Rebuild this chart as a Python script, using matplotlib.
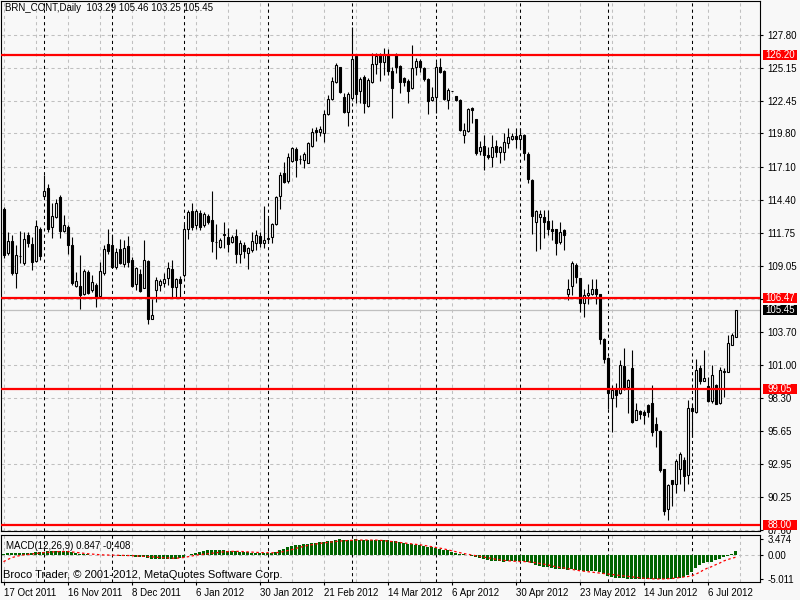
import matplotlib
matplotlib.use("Agg")
import matplotlib.pyplot as plt
import matplotlib.transforms as mtransforms
from matplotlib.patches import Rectangle
import numpy as np

plt.rcParams['font.family'] = ['Liberation Sans', 'DejaVu Sans']
plt.rcParams['font.size'] = 7
plt.rcParams['axes.linewidth'] = 0.8

# daily bars, oldest first
opens = [
    113.68, 110.11, 111.05, 108.43, 109.84, 109.24, 111.54, 110.81, 109.46, 112.03,
    114.71, 115.34, 112.22, 112.98, 114.66, 111.89, 112.22, 110.73, 107.42, 107.40,
    106.80, 108.51, 107.07, 107.48, 106.58, 108.43, 110.86, 110.73, 108.97, 110.38,
    109.16, 110.65, 109.56, 107.61, 108.37, 107.21, 109.46, 104.77, 107.07, 107.53,
    107.67, 108.10, 108.83, 107.34, 107.97, 108.29, 112.00, 113.49, 112.36, 113.36,
    112.36, 113.09, 112.76, 111.00, 110.59, 111.55, 111.35, 111.00, 111.46, 109.97,
    110.78, 110.13, 110.32, 110.87, 111.46, 110.87, 111.25, 111.41, 112.44, 114.74,
    116.56, 115.93, 117.59, 118.54, 117.70, 117.64, 117.42, 118.80, 120.08, 119.95,
    119.81, 121.38, 122.60, 123.95, 125.17, 122.79, 121.57, 122.65, 126.12, 123.27,
    124.41, 122.03, 124.01, 125.42, 126.17, 125.63, 126.23, 124.90, 126.17, 125.28,
    124.28, 124.06, 123.46, 125.17, 125.69, 125.09, 124.20, 122.52, 122.79, 125.23,
    124.87, 122.52, 123.25, 122.84, 122.52, 119.67, 120.02, 121.84, 120.97, 118.40,
    118.78, 118.04, 117.91, 118.78, 118.32, 118.32, 118.99, 119.35, 119.59, 119.32,
    119.67, 118.12, 116.01, 112.62, 113.03, 113.03, 112.68, 112.08, 112.03, 110.99,
    111.94, 106.80, 107.39, 109.15, 108.02, 106.04, 106.66, 106.80, 107.20, 106.74,
    103.14, 101.59, 98.34, 99.07, 98.72, 100.89, 99.21, 100.78, 96.55, 97.23,
    97.18, 97.72, 97.94, 96.17, 95.60, 92.52, 89.32, 91.62, 91.30, 92.57,
    93.25, 92.03, 97.53, 97.18, 100.75, 99.70, 99.26, 98.07, 99.34, 97.91,
    100.43, 100.43, 102.65, 103.29]
highs = [
    113.85, 111.81, 111.54, 110.73, 111.87, 111.81, 111.81, 111.41, 112.76, 112.22,
    116.42, 115.69, 114.12, 114.44, 114.79, 113.17, 112.36, 111.41, 108.56, 109.92,
    108.83, 108.70, 108.29, 107.67, 109.37, 110.73, 112.00, 111.54, 110.46, 111.19,
    111.14, 111.46, 109.78, 108.97, 108.83, 111.14, 109.51, 106.39, 108.15, 107.94,
    108.43, 109.37, 109.51, 108.02, 108.21, 112.41, 113.58, 114.12, 113.63, 113.58,
    113.44, 113.22, 115.12, 112.41, 111.27, 112.63, 112.09, 111.54, 112.00, 111.14,
    111.00, 110.59, 111.81, 111.95, 111.81, 113.90, 112.90, 112.55, 114.71, 116.69,
    117.51, 118.20, 118.72, 118.72, 118.05, 118.32, 119.13, 120.21, 120.30, 120.40,
    121.70, 122.92, 124.41, 125.55, 125.23, 123.11, 123.19, 128.48, 126.17, 124.41,
    124.55, 124.28, 126.31, 126.36, 126.31, 126.72, 126.64, 125.23, 126.31, 125.36,
    124.41, 124.20, 126.99, 125.90, 125.82, 125.23, 124.33, 123.60, 125.63, 125.90,
    124.95, 123.46, 123.27, 122.84, 122.60, 120.62, 121.84, 121.92, 120.97, 119.21,
    119.67, 118.72, 119.67, 119.26, 118.80, 119.81, 120.21, 119.86, 120.21, 120.21,
    119.72, 118.31, 116.14, 113.57, 113.62, 113.57, 113.57, 112.76, 112.08, 112.62,
    112.03, 107.94, 109.43, 109.29, 108.10, 107.20, 107.61, 107.94, 107.94, 106.80,
    103.22, 101.65, 99.34, 99.53, 101.38, 102.41, 99.89, 102.19, 97.91, 97.31,
    97.37, 97.85, 99.34, 96.77, 95.69, 92.57, 91.35, 91.68, 93.38, 93.92,
    93.52, 98.18, 97.80, 101.51, 100.97, 102.24, 100.02, 100.97, 99.48, 100.83,
    100.78, 103.41, 103.60, 105.46]
lows = [
    109.65, 109.92, 108.29, 107.21, 109.24, 109.10, 110.59, 108.70, 109.37, 109.51,
    114.60, 111.81, 111.27, 112.90, 111.27, 111.81, 110.05, 107.48, 107.34, 105.58,
    106.66, 106.80, 106.94, 105.72, 106.53, 108.29, 110.05, 108.91, 108.83, 109.18,
    108.97, 108.97, 107.34, 107.07, 106.94, 107.21, 104.31, 104.69, 106.12, 107.02,
    107.34, 107.48, 106.53, 106.53, 106.53, 108.15, 111.19, 111.95, 112.00, 111.95,
    112.22, 112.44, 110.19, 109.62, 110.46, 110.46, 110.19, 110.87, 109.29, 109.29,
    109.65, 108.83, 110.19, 110.32, 110.59, 110.46, 110.87, 110.87, 112.36, 113.63,
    115.74, 115.74, 117.51, 116.29, 117.32, 116.96, 117.37, 118.72, 119.20, 119.60,
    119.13, 121.30, 122.52, 123.87, 123.06, 121.43, 120.40, 122.52, 122.24, 122.24,
    121.49, 121.92, 123.87, 124.63, 124.09, 124.55, 124.55, 121.08, 124.74, 123.11,
    123.65, 122.24, 123.38, 124.55, 124.82, 124.06, 121.35, 122.43, 121.49, 124.68,
    122.52, 121.76, 123.23, 122.46, 120.00, 119.05, 119.94, 120.67, 118.04, 118.04,
    116.82, 117.69, 117.10, 117.91, 117.37, 117.64, 118.59, 119.26, 118.59, 118.59,
    117.64, 115.79, 111.67, 110.26, 110.45, 111.27, 111.54, 111.13, 109.91, 110.86,
    110.37, 106.31, 106.72, 107.66, 105.31, 104.90, 105.98, 106.66, 105.98, 102.73,
    101.16, 97.45, 95.55, 97.58, 98.66, 98.99, 97.10, 96.28, 96.50, 96.63,
    96.23, 96.77, 95.20, 94.33, 92.30, 88.78, 88.42, 89.51, 90.59, 91.35,
    90.75, 91.35, 95.14, 97.10, 99.48, 99.70, 97.99, 97.91, 97.80, 97.85,
    98.40, 100.43, 102.60, 103.25]
closes = [
    109.92, 111.05, 108.43, 109.92, 109.86, 111.22, 110.92, 109.37, 112.27, 109.86,
    115.12, 112.00, 113.09, 114.12, 111.89, 112.36, 110.78, 107.67, 107.80, 106.66,
    108.62, 106.85, 107.72, 106.53, 108.62, 110.38, 110.27, 108.97, 110.16, 109.29,
    110.46, 109.37, 107.40, 108.89, 106.99, 109.51, 104.77, 105.04, 107.88, 107.83,
    107.97, 108.91, 107.34, 107.97, 107.69, 112.00, 113.39, 112.17, 113.49, 112.22,
    113.22, 112.57, 111.08, 110.97, 111.14, 111.60, 110.81, 111.35, 110.00, 110.87,
    110.27, 110.46, 111.06, 111.54, 110.92, 111.14, 111.30, 112.44, 114.61, 116.42,
    115.88, 117.91, 118.59, 117.64, 117.72, 118.10, 118.99, 119.94, 119.89, 120.13,
    121.35, 122.57, 124.09, 125.36, 123.19, 121.57, 123.00, 125.82, 123.00, 124.20,
    122.24, 124.14, 125.42, 126.09, 125.63, 126.23, 124.90, 123.46, 125.23, 124.01,
    124.01, 123.27, 125.09, 125.69, 125.17, 124.20, 122.46, 122.73, 125.23, 124.82,
    122.60, 123.33, 123.25, 122.52, 120.08, 120.08, 121.76, 121.70, 118.23, 118.67,
    118.04, 117.91, 118.72, 118.32, 118.67, 119.07, 119.48, 119.62, 119.35, 119.67,
    118.18, 116.14, 113.08, 113.49, 113.25, 112.62, 112.08, 111.89, 110.94, 111.81,
    111.59, 107.20, 109.24, 108.15, 106.04, 106.72, 106.85, 107.20, 106.74, 103.14,
    101.51, 98.72, 98.99, 98.59, 100.97, 99.07, 99.75, 96.36, 97.37, 96.99,
    96.91, 97.18, 95.55, 95.69, 92.43, 89.13, 91.27, 91.30, 93.17, 93.73,
    91.95, 97.53, 97.26, 100.56, 99.70, 99.97, 98.07, 100.21, 97.85, 100.62,
    100.48, 102.81, 103.46, 105.45]

# MACD(12,26,9) main (histogram) and signal
macd = [
    0.40, 0.42, 0.45, 0.48, 0.50, 0.52, 0.55, 0.58, 0.62, 0.66,
    0.75, 0.85, 0.90, 0.95, 1.00, 1.00, 0.95, 0.80, 0.60, 0.40,
    0.30, 0.20, 0.10, 0.05, 0.00, 0.00, 0.05, 0.05, 0.00, -0.05,
    -0.05, -0.10, -0.20, -0.25, -0.35, -0.40, -0.60, -0.75, -0.80, -0.80,
    -0.80, -0.75, -0.75, -0.70, -0.65, -0.30, 0.10, 0.40, 0.60, 0.75,
    0.90, 1.05, 1.10, 1.10, 1.10, 1.05, 1.00, 0.95, 0.90, 0.80,
    0.75, 0.65, 0.60, 0.60, 0.55, 0.55, 0.50, 0.55, 0.75, 1.10,
    1.40, 1.70, 1.95, 2.15, 2.30, 2.40, 2.50, 2.60, 2.70, 2.75,
    2.85, 3.00, 3.15, 3.30, 3.474, 3.35, 3.30, 3.35, 3.40, 3.35,
    3.25, 3.20, 3.25, 3.30, 3.30, 3.30, 3.20, 3.05, 2.95, 2.80,
    2.60, 2.50, 2.40, 2.30, 2.20, 2.00, 1.85, 1.70, 1.55, 1.40,
    1.20, 1.05, 0.80, 0.55, 0.35, 0.20, 0.05, -0.15, -0.40, -0.65,
    -0.85, -1.00, -1.10, -1.20, -1.25, -1.30, -1.25, -1.20, -1.20, -1.20,
    -1.25, -1.40, -1.70, -2.00, -2.20, -2.40, -2.55, -2.65, -2.80, -2.85,
    -2.90, -3.00, -2.95, -3.00, -3.10, -3.25, -3.30, -3.35, -3.40, -3.60,
    -3.90, -4.30, -4.55, -4.75, -4.85, -4.90, -5.00, -5.00, -5.011, -5.00,
    -5.00, -4.95, -5.00, -5.00, -5.00, -5.00, -5.00, -4.95, -4.90, -4.80,
    -4.60, -4.20, -3.50, -2.60, -2.00, -1.70, -1.50, -1.30, -1.00, -0.80,
    -0.40, -0.10, 0.30, 0.847]
signal = [
    -1.33, -0.90, -0.50, -0.25, -0.05, 0.10, 0.20, 0.30, 0.40, 0.50,
    0.58, 0.65, 0.72, 0.78, 0.80, 0.82, 0.80, 0.75, 0.65, 0.55,
    0.45, 0.35, 0.28, 0.20, 0.15, 0.10, 0.08, 0.05, 0.05, 0.03,
    0.00, 0.00, -0.05, -0.10, -0.15, -0.20, -0.25, -0.30, -0.38, -0.45,
    -0.50, -0.55, -0.58, -0.60, -0.55, -0.45, -0.30, -0.15, 0.05, 0.15,
    0.25, 0.35, 0.45, 0.55, 0.65, 0.75, 0.80, 0.85, 0.85, 0.85,
    0.80, 0.75, 0.70, 0.65, 0.60, 0.58, 0.55, 0.55, 0.58, 0.65,
    0.80, 1.00, 1.20, 1.45, 1.70, 1.90, 2.10, 2.25, 2.40, 2.55,
    2.65, 2.75, 2.85, 2.95, 3.05, 3.10, 3.15, 3.20, 3.25, 3.25,
    3.25, 3.25, 3.25, 3.25, 3.20, 3.15, 3.05, 2.95, 2.85, 2.75,
    2.65, 2.55, 2.45, 2.35, 2.25, 2.15, 2.00, 1.85, 1.70, 1.55,
    1.40, 1.20, 1.00, 0.80, 0.60, 0.40, 0.25, 0.10, -0.05, -0.20,
    -0.35, -0.50, -0.65, -0.80, -0.95, -1.05, -1.15, -1.20, -1.25, -1.30,
    -1.30, -1.35, -1.45, -1.55, -1.70, -1.85, -2.00, -2.20, -2.40, -2.55,
    -2.65, -2.80, -2.95, -3.10, -3.25, -3.35, -3.45, -3.55, -3.65, -3.75,
    -3.85, -3.95, -4.05, -4.15, -4.25, -4.35, -4.45, -4.55, -4.65, -4.75,
    -4.85, -4.90, -4.95, -5.00, -5.00, -5.00, -4.95, -4.90, -4.85, -4.70,
    -4.60, -4.50, -4.37, -4.00, -3.60, -3.10, -2.70, -2.40, -2.00, -1.65,
    -1.20, -0.90, -0.62, -0.408]

date_ticks = [0, 16, 32, 48, 64, 80, 96, 112, 128, 144, 160, 176]
date_labels = ['17 Oct 2011', '16 Nov 2011', '8 Dec 2011', '6 Jan 2012',
               '30 Jan 2012', '21 Feb 2012', '14 Mar 2012', '6 Apr 2012',
               '30 Apr 2012', '23 May 2012', '14 Jun 2012', '6 Jul 2012']
month_starts = [10, 27, 45, 66, 87, 108, 129, 151, 172]
price_ticks = [127.80, 125.15, 122.45, 119.80, 117.10, 114.40, 111.75, 109.05,
               106.35, 103.70, 101.00, 98.30, 95.65, 92.95, 90.25, 87.60]
levels = [126.20, 106.47, 99.05, 88.00]
bid = 105.45
macd_ticks = [3.474, 0.0, -5.011]
title = 'BRN_CONT,Daily  103.29 105.46 103.25 105.45'
macd_title = 'MACD(12,26,9) 0.847 -0.408'
footer = 'Broco Trader, \u00a9 2001-2012, MetaQuotes Software Corp.'

BG = '#f8f8f8'
GRID = '#c0c0c0'
W, H = 800, 600


def px_box(left, top, right, bottom):
    return [left / W, 1 - bottom / H, (right - left) / W, (bottom - top) / H]


fig = plt.figure(figsize=(8, 6), dpi=100, facecolor=BG)
ax = fig.add_axes(px_box(1, 1, 760, 531), facecolor=BG)
ax2 = fig.add_axes(px_box(1, 535, 760, 582), facecolor=BG)

x = np.arange(len(closes))
o, h, l, c = map(np.array, (opens, highs, lows, closes))
up = c >= o

for a in (ax, ax2):
    a.set_xlim(-0.625, 189.125)
    for i in range(0, 190, 8):
        a.axvline(i, color=GRID, lw=0.75, ls=(0, (3, 3)), zorder=0.5)
    for m in month_starts:
        a.axvline(m, color='black', lw=0.75, ls=(0, (3, 3)), zorder=1)
    for s in a.spines.values():
        s.set_color('black')

# price panel
ax.set_ylim(87.51, 130.56)
for p in price_ticks:
    ax.axhline(p, color=GRID, lw=0.75, ls=(0, (3, 3)), zorder=0.5)
ax.axhline(bid, color=GRID, lw=0.9, zorder=1)

ax.vlines(x, l, h, color='black', lw=0.8, zorder=2)
ax.bar(x[up], (c - o)[up], bottom=o[up], width=0.5, facecolor='white',
       edgecolor='black', lw=0.8, zorder=3)
ax.bar(x[~up], (o - c)[~up], bottom=c[~up], width=0.5, facecolor='black',
       edgecolor='black', lw=0.8, zorder=3)

for lv in levels:
    ax.axhline(lv, color='red', lw=1.6, zorder=4)

ax.yaxis.tick_right()
ax.set_yticks(price_ticks)
# the 106.35 label sits under the 106.47 level box, as on the terminal
ax.set_yticklabels(['' if p == 106.35 else f'{p:.2f}' for p in price_ticks])
ax.tick_params(axis='y', direction='out', length=2.2, width=0.8, pad=3)
ax.tick_params(axis='x', bottom=False, labelbottom=False)

trans = mtransforms.blended_transform_factory(ax.transAxes, ax.transData)
half = 5 / 12.31
for val, fc in [(lv, 'red') for lv in levels] + [(bid, 'black')]:
    ax.add_patch(Rectangle((1.0036, val - half), 0.0455, 2 * half, transform=trans,
                           facecolor=fc, edgecolor='none', clip_on=False, zorder=6))
    ax.text(1.0264, val, f'{val:.2f}', transform=trans, color='white',
            ha='center', va='center', clip_on=False, zorder=7)

# MACD panel
ax2.set_ylim(-5.65, 4.33)
ax2.axhline(0, color=GRID, lw=0.75, ls=(0, (3, 3)), zorder=0.5)
ax2.bar(x, macd, width=0.7, color='#006400', zorder=2)
ax2.plot(x, signal, color='red', lw=0.9, ls=(0, (2, 2)), zorder=3)
ax2.yaxis.tick_right()
ax2.set_yticks(macd_ticks)
ax2.set_yticklabels(['3.474', '0.00', '-5.011'])
ax2.tick_params(axis='y', direction='out', length=2.2, width=0.8, pad=3)
ax2.set_xticks(date_ticks)
ax2.set_xticklabels(date_labels, ha='left')
ax2.tick_params(axis='x', direction='out', length=2.5, width=0.8, pad=1.5)

fig.text(5 / W, 1 - 8 / H, title, ha='left', va='center')
fig.text(6 / W, 1 - 546 / H, macd_title, ha='left', va='center')
fig.text(3 / W, 1 - 575 / H, footer, ha='left', va='center', fontsize=8)

fig.savefig('out.png', dpi=100, facecolor=BG)
